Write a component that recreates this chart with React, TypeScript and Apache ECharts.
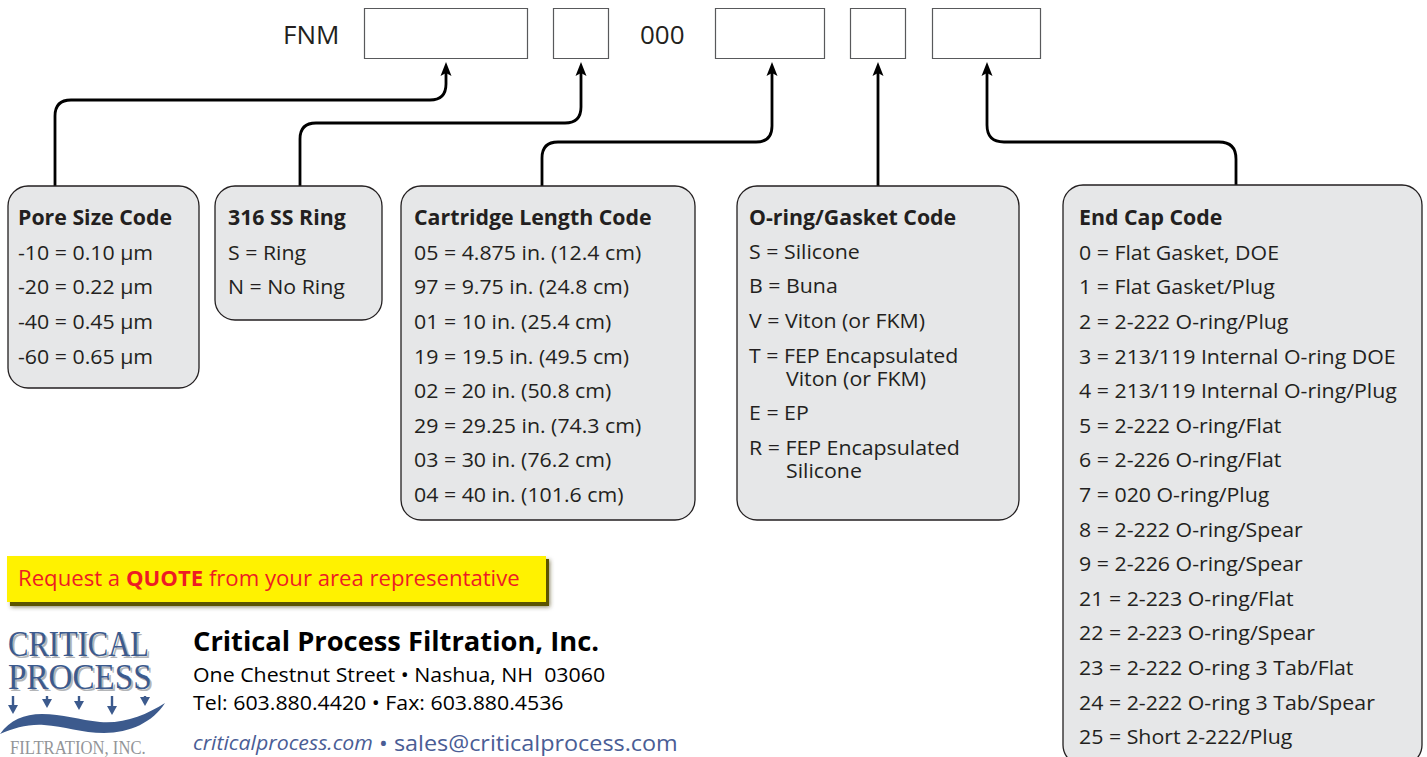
import React, { useEffect, useRef } from "react";
import * as echarts from "echarts";

// ---- Data ----
const codePrefix = "FNM";
const codeMiddle = "000";
const poreTitle = "Pore Size Code";
const poreCodes = ["-10 = 0.10 µm", "-20 = 0.22 µm", "-40 = 0.45 µm", "-60 = 0.65 µm"];
const ringTitle = "316 SS Ring";
const ringCodes = ["S = Ring", "N = No Ring"];
const lengthTitle = "Cartridge Length Code";
const lengthCodes = [
  "05 = 4.875 in. (12.4 cm)",
  "97 = 9.75 in. (24.8 cm)",
  "01 = 10 in. (25.4 cm)",
  "19 = 19.5 in. (49.5 cm)",
  "02 = 20 in. (50.8 cm)",
  "29 = 29.25 in. (74.3 cm)",
  "03 = 30 in. (76.2 cm)",
  "04 = 40 in. (101.6 cm)",
];
const oringTitle = "O-ring/Gasket Code";
const oringCodes = [
  ["S = ", "Silicone"],
  ["B = ", "Buna"],
  ["V = ", "Viton (or FKM)"],
  ["T = ", "FEP Encapsulated", "Viton (or FKM)"],
  ["E = ", "EP"],
  ["R = ", "FEP Encapsulated", "Silicone"],
];
const endCapTitle = "End Cap Code";
const endCapCodes = [
  "0 = Flat Gasket, DOE",
  "1 = Flat Gasket/Plug",
  "2 = 2-222 O-ring/Plug",
  "3 = 213/119 Internal O-ring DOE",
  "4 = 213/119 Internal O-ring/Plug",
  "5 = 2-222 O-ring/Flat",
  "6 = 2-226 O-ring/Flat",
  "7 = 020 O-ring/Plug",
  "8 = 2-222 O-ring/Spear",
  "9 = 2-226 O-ring/Spear",
  "21 = 2-223 O-ring/Flat",
  "22 = 2-223 O-ring/Spear",
  "23 = 2-222 O-ring 3 Tab/Flat",
  "24 = 2-222 O-ring 3 Tab/Spear",
  "25 = Short 2-222/Plug",
];
const quoteParts = ["Request a ", "QUOTE", " from your area representative"];
const companyName = "Critical Process Filtration, Inc.";
const companyAddress = "One Chestnut Street • Nashua, NH  03060";
const companyPhone = "Tel: 603.880.4420 • Fax: 603.880.4536";
const companyWeb = "criticalprocess.com";
const companyEmail = "sales@criticalprocess.com";
const logoWords = ["CRITICAL", "PROCESS", "FILTRATION, INC."];

// ---- Layout / style ----
const FONT = "'Open Sans', 'Noto Sans', sans-serif";
const SERIF = "'Liberation Serif', 'DejaVu Serif', serif";
const BOX_FILL = "#e6e7e8";
const BOX_STROKE = "#231f20";
const LINE_H = 34.6;
const FS = 20.5;
const SX = 1.04;

function connectorPath(xb: number, yb: number, yh: number, xt: number, yt: number, r: number) {
  const dir = xt > xb ? 1 : -1;
  return `M${xb} ${yb} L${xb} ${yh + r} Q${xb} ${yh} ${xb + dir * r} ${yh} L${xt - dir * r} ${yh} Q${xt} ${yh} ${xt} ${yh - r} L${xt} ${yt}`;
}

let registered = false;
function registerShapes() {
  if (registered) return;
  registered = true;
  const conns = [
    connectorPath(55, 186, 100, 446, 72, 16),
    connectorPath(300, 186, 123, 581, 72, 16),
    connectorPath(542, 186, 142, 772, 72, 16),
    `M878 186 L878 72`,
    connectorPath(1236, 185, 142, 987, 72, 17),
  ];
  conns.forEach((d, i) => {
    echarts.graphic.registerShape("conn" + i, echarts.graphic.extendPath(d, {}) as any);
  });
  const wave =
    "M0 734 C10 720 24 714 42 714 C62 714 80 720 100 722 C124 724 146 715 165 703 " +
    "C153 722 130 733 104 733 C82 733 64 726 44 725 C28 724 14 728 0 734 Z";
  echarts.graphic.registerShape("wave", echarts.graphic.extendPath(wave, {}) as any);
}

function textEl(x: number, y: number, text: string, opts: any = {}) {
  const fs = opts.fontSize || FS;
  return {
    type: "text",
    x,
    y,
    silent: true,
    style: {
      text,
      x: 0,
      y: 0,
      fill: opts.fill || "#231f20",
      fontSize: fs,
      fontFamily: opts.fontFamily || FONT,
      fontWeight: opts.fontWeight || "normal",
      fontStyle: opts.fontStyle || "normal",
      lineHeight: opts.lineHeight || Math.round(fs * 1.05),
      textVerticalAlign: opts.vAlign || "middle",
      textAlign: opts.align || "left",
      rich: opts.rich,
    },
    scaleX: opts.scaleX === undefined ? SX : opts.scaleX,
    z: opts.z || 10,
  };
}

function codeBox(x: number, y: number, w: number, h: number, title: string, lines: string[], tx: number) {
  const els: any[] = [
    {
      type: "rect",
      shape: { x, y, width: w, height: h, r: 20 },
      style: { fill: BOX_FILL, stroke: BOX_STROKE, lineWidth: 1.3 },
      z: 5,
    },
    textEl(tx, 217, title, { fontWeight: "bold" }),
  ];
  lines.forEach((t, i) => els.push(textEl(tx, 252 + i * LINE_H, t)));
  return els;
}

function buildGraphics() {
  const g: any[] = [];
  g.push({ type: "rect", shape: { x: 0, y: 0, width: 1427, height: 757 }, style: { fill: "#ffffff" }, z: 0 });

  // top code line
  g.push(textEl(283, 34, codePrefix, { fontSize: 25.5, scaleX: 1.02 }));
  g.push(textEl(640, 34, codeMiddle, { fontSize: 25.5, scaleX: 1.02 }));
  const slots = [
    [364, 163],
    [553, 55],
    [715, 109],
    [850, 55],
    [932, 108],
  ];
  slots.forEach(([x, w]) =>
    g.push({
      type: "rect",
      shape: { x: x + 0.5, y: 8.5, width: w, height: 50 },
      style: { fill: "#ffffff", stroke: "#58595b", lineWidth: 1.2 },
      z: 5,
    })
  );

  // connectors
  for (let i = 0; i < 5; i++) {
    g.push({
      type: "conn" + i,
      style: { fill: "none", stroke: "#000000", lineWidth: 2.8 },
      z: 4,
    });
  }
  [446, 581, 772, 878, 987].forEach((x) =>
    g.push({
      type: "polygon",
      shape: { points: [[x, 62], [x - 5.5, 76], [x, 73], [x + 5.5, 76]] },
      style: { fill: "#000000" },
      z: 6,
    })
  );

  // code boxes
  g.push(...codeBox(8, 186, 191, 202, poreTitle, poreCodes, 18));
  g.push(...codeBox(215, 186, 167, 134, ringTitle, ringCodes, 228));
  g.push(...codeBox(401, 186, 294, 334, lengthTitle, lengthCodes, 414));
  g.push({
    type: "rect",
    shape: { x: 737, y: 186, width: 282, height: 334, r: 20 },
    style: { fill: BOX_FILL, stroke: BOX_STROKE, lineWidth: 1.3 },
    z: 5,
  });
  g.push(textEl(749, 217, oringTitle, { fontWeight: "bold" }));
  let oy = 251;
  oringCodes.forEach((item) => {
    g.push(textEl(749, oy, item[0] + item[1]));
    if (item.length > 2) {
      oy += 23;
      g.push(textEl(786, oy, item[2]));
    }
    oy += LINE_H;
  });
  g.push(...codeBox(1063, 185, 359, 580, endCapTitle, endCapCodes, 1079));

  // quote button
  g.push({
    type: "rect",
    shape: { x: 10, y: 559, width: 539, height: 47 },
    style: { fill: "#5c5500", shadowBlur: 4, shadowColor: "rgba(60,55,0,0.6)", shadowOffsetX: 1, shadowOffsetY: 1 },
    z: 5,
  });
  g.push({
    type: "rect",
    shape: { x: 7, y: 556, width: 539, height: 46 },
    style: { fill: "#fff200" },
    z: 6,
  });
  g.push(
    textEl(18, 578, `{a|${quoteParts[0]}}{b|${quoteParts[1]}}{a|${quoteParts[2]}}`, {
      fill: "#ed1c24",
      fontSize: 21.5,
      scaleX: 1.03,
      z: 8,
      rich: {
        a: { fill: "#ed1c24", fontSize: 21.5, fontFamily: FONT, lineHeight: 22 },
        b: { fill: "#ed1c24", fontSize: 21.5, fontFamily: FONT, fontWeight: "bold", lineHeight: 22 },
      },
    })
  );

  // company info
  g.push(textEl(193, 641, companyName, { fontSize: 26.5, fontWeight: "bold", fill: "#000000", scaleX: 1.03 }));
  g.push(textEl(193, 674, companyAddress, { fontSize: 20.5, fill: "#000000", scaleX: 1.04 }));
  g.push(textEl(193, 702, companyPhone, { fontSize: 20.5, fill: "#000000", scaleX: 1.04 }));
  g.push(
    textEl(193, 742, `{i|${companyWeb}}{n| • ${companyEmail}}`, {
      fontSize: 22,
      fill: "#4a5d95",
      scaleX: 1.04,
      lineHeight: 20,
      rich: {
        i: { fill: "#4a5d95", fontSize: 20.5, fontStyle: "italic", fontFamily: FONT, lineHeight: 20 },
        n: { fill: "#4a5d95", fontSize: 22.5, fontFamily: FONT, lineHeight: 20 },
      },
    })
  );

  // logo
  const blue = "#3c5a8d";
  const shadow = "#b3b5b8";
  const logoText = (x: number, y: number, t: string, size: number, sx: number, fill: string, z: number, lh?: number) =>
    textEl(x, y, t, { fontFamily: SERIF, fontSize: size, fill, scaleX: sx, vAlign: "bottom", z, lineHeight: lh || size });
  g.push(logoText(10, 664, logoWords[0], 36, 0.85, shadow, 9));
  g.push(logoText(8, 662, logoWords[0], 36, 0.85, blue, 10));
  g.push(logoText(10, 696, logoWords[1], 36, 0.92, shadow, 9));
  g.push(logoText(8, 694, logoWords[1], 36, 0.92, blue, 10));
  g.push(logoText(10, 755, logoWords[2], 18.5, 0.9, "#939598", 10, 15));
  g.push({ type: "wave", style: { fill: blue }, z: 10 });
  const arrows = [
    [13, 712],
    [47, 706],
    [79, 708],
    [112, 713],
    [145, 704],
  ];
  arrows.forEach(([x, yEnd]) => {
    g.push({
      type: "line",
      shape: { x1: x, y1: 696, x2: x, y2: yEnd - 5 },
      style: { stroke: blue, lineWidth: 2.4 },
      z: 10,
    });
    g.push({
      type: "polygon",
      shape: { points: [[x - 5, yEnd - 7], [x + 5, yEnd - 7], [x, yEnd + 2]] },
      style: { fill: blue },
      z: 10,
    });
  });
  return g;
}

export default function App() {
  const ref = useRef<HTMLDivElement>(null);
  useEffect(() => {
    if (!ref.current) return;
    registerShapes();
    const chart = echarts.init(ref.current, undefined, { renderer: "svg" });
    chart.setOption({
      animation: false,
      backgroundColor: "#ffffff",
      graphic: { elements: buildGraphics() },
    });
    return () => chart.dispose();
  }, []);
  return (
    <div
      ref={ref}
      style={{ position: "absolute", left: 0, top: 0, width: 1427, height: 757, background: "#fff" }}
    />
  );
}
